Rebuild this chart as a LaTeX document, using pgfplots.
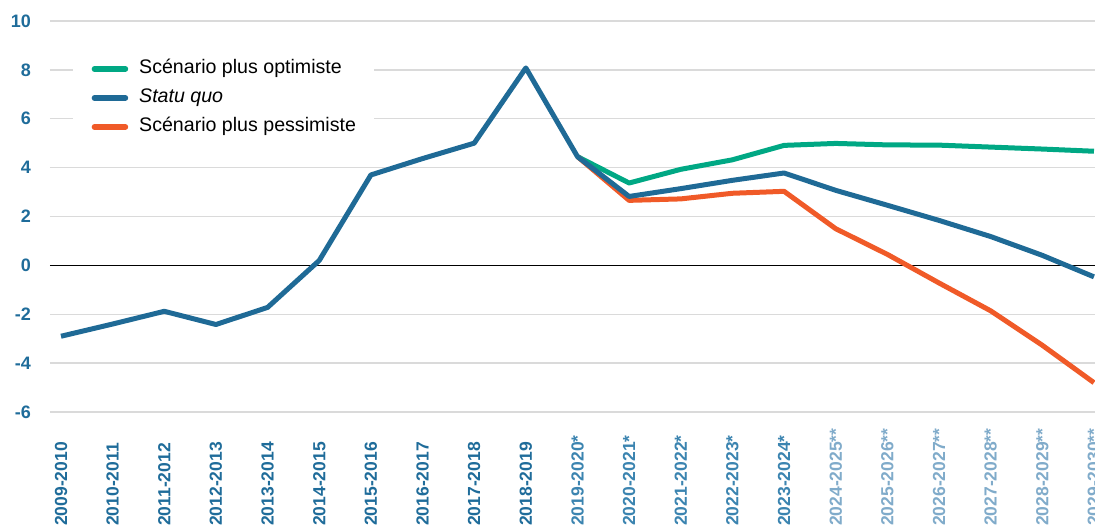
\documentclass[border=0pt]{standalone}
\usepackage{pgfplots}
\usepackage{pgfplotstable}
\pgfplotsset{compat=1.18}
\usepackage{fontspec}
\setmainfont{Liberation Sans}

\definecolor{optim}{HTML}{00A884}
\definecolor{statu}{HTML}{1F6A96}
\definecolor{pessim}{HTML}{F05A28}
\definecolor{lbldark}{HTML}{1F6C9A}
\definecolor{lblmid}{HTML}{3B84B0}
\definecolor{lbllight}{HTML}{80ABCA}
\definecolor{gridgray}{HTML}{DADADA}

% Statu quo: observed years, then projection
\pgfplotstableread{
x  y
0  -2.90
1  -2.40
2  -1.88
3  -2.42
4  -1.72
5   0.20
6   3.70
7   4.37
8   5.00
9   8.08
10  4.45
11  2.82
12  3.14
13  3.48
14  3.78
15  3.07
16  2.46
17  1.84
18  1.18
19  0.41
20 -0.47
}\statuquo

% Optimistic scenario
\pgfplotstableread{
x  y
10 4.45
11 3.37
12 3.93
13 4.32
14 4.91
15 4.99
16 4.93
17 4.92
18 4.84
19 4.76
20 4.67
}\optimiste

% Pessimistic scenario
\pgfplotstableread{
x  y
10  4.45
11  2.66
12  2.72
13  2.95
14  3.03
15  1.50
16  0.45
17 -0.72
18 -1.86
19 -3.27
20 -4.80
}\pessimiste

\begin{document}
\begin{tikzpicture}
\path[use as bounding box] (0,0) rectangle (1095pt,529pt);
\begin{axis}[
  at={(50pt,117pt)}, anchor=south west,
  scale only axis, width=1045pt, height=391pt,
  xmin=-0.213, xmax=20.02, ymin=-6, ymax=10,
  axis line style={draw=none},
  major tick length=0pt,
  ytick={-6,-4,-2,2,4,6,8,10},
  extra y ticks={0},
  extra y tick style={grid style={black, line width=1.2pt}},
  ymajorgrids,
  grid style={gridgray, line width=1.3pt},
  /pgf/number format/assume math mode=true,
  yticklabel style={font=\fontsize{18}{18}\selectfont\bfseries, color=lbldark,
    anchor=east, inner sep=0pt, xshift=-19pt},
  xtick={0,...,20},
  xticklabels={
    \textcolor{lbldark}{2009-2010},
    \textcolor{lbldark}{2010-2011},
    \textcolor{lbldark}{2011-2012},
    \textcolor{lbldark}{2012-2013},
    \textcolor{lbldark}{2013-2014},
    \textcolor{lbldark}{2014-2015},
    \textcolor{lbldark}{2015-2016},
    \textcolor{lbldark}{2016-2017},
    \textcolor{lbldark}{2017-2018},
    \textcolor{lbldark}{2018-2019},
    \textcolor{lblmid}{2019-2020*},
    \textcolor{lblmid}{2020-2021*},
    \textcolor{lblmid}{2021-2022*},
    \textcolor{lblmid}{2022-2023*},
    \textcolor{lblmid}{2023-2024*},
    \textcolor{lbllight}{2024-2025**},
    \textcolor{lbllight}{2025-2026**},
    \textcolor{lbllight}{2026-2027**},
    \textcolor{lbllight}{2027-2028**},
    \textcolor{lbllight}{2028-2029**},
    \textcolor{lbllight}{2029-2030**}},
  xticklabel style={yshift=-114pt, rotate=90, anchor=west, inner sep=0pt,
    font=\fontsize{17.5}{17.5}\selectfont\bfseries},
  legend style={at={(0.022,0.913)}, anchor=north west, draw=none, fill=white,
    inner xsep=18.5pt, inner ysep=5pt, row sep=11.5pt, column sep=11pt,
    font=\fontsize{19.6}{19.6}\selectfont,
    nodes={inner sep=0pt, text height=13.5pt, text depth=4pt}},
  legend cell align=left,
  legend image code/.code={\draw[#1, line cap=round] (0pt,0pt) -- (31pt,0pt);},
]
\addlegendimage{optim, line width=5.5pt}
\addlegendimage{statu, line width=5.5pt}
\addlegendimage{pessim, line width=5.5pt}
\legend{Scénario plus optimiste, \textit{Statu quo}, Scénario plus pessimiste}

\addplot[optim, line width=5pt, line join=round, forget plot] table[x=x, y=y] {\optimiste};
\addplot[pessim, line width=5pt, line join=round, forget plot] table[x=x, y=y] {\pessimiste};
\addplot[statu, line width=5pt, line join=round, forget plot] table[x=x, y=y] {\statuquo};
\end{axis}
\end{tikzpicture}
\end{document}
